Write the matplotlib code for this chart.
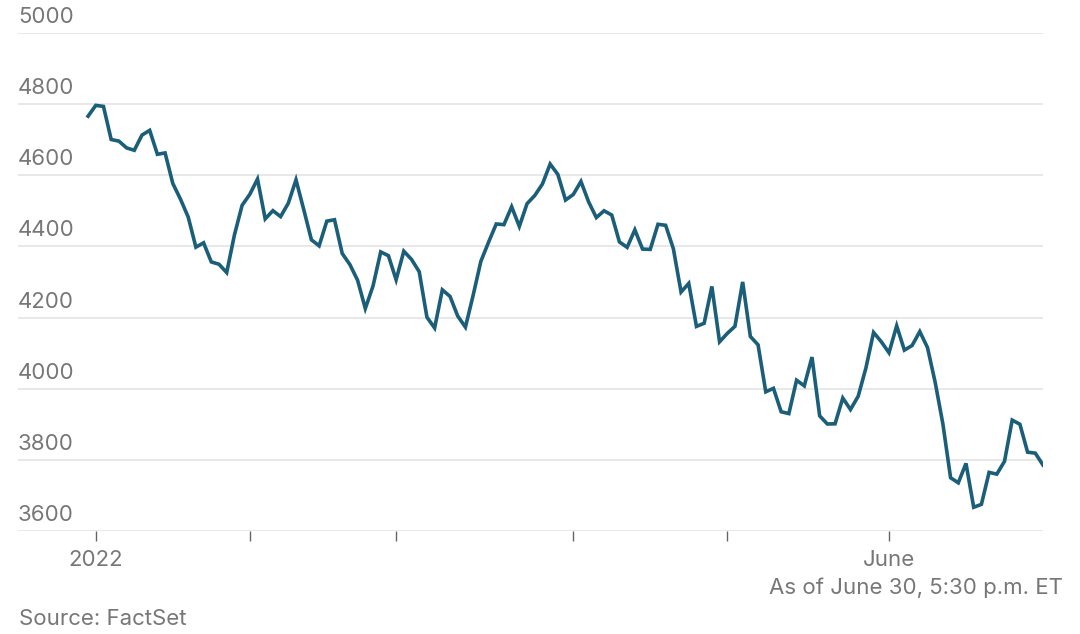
import matplotlib
matplotlib.use("Agg")
import matplotlib.pyplot as plt
import matplotlib.transforms as mtransforms
import numpy as np

# ── データ（S&P 500 終値, 2021/12/31 〜 2022/6/30, 取引日ベース） ──
closes = [
    4766.18,
    # Jan
    4796.56, 4793.54, 4700.58, 4696.05, 4677.03, 4670.29, 4713.07, 4726.35,
    4659.03, 4662.85, 4577.11, 4532.76, 4482.73, 4397.94, 4410.13, 4356.45,
    4349.93, 4326.51, 4431.85, 4515.55,
    # Feb
    4546.54, 4589.38, 4477.44, 4500.53, 4483.87, 4521.54, 4587.18, 4504.08,
    4418.64, 4401.67, 4471.07, 4475.01, 4380.26, 4348.87, 4304.76, 4225.50,
    4288.70, 4384.65, 4373.94,
    # Mar
    4306.26, 4386.54, 4363.49, 4328.87, 4201.09, 4170.70, 4277.88, 4259.52,
    4204.31, 4173.11, 4262.45, 4357.86, 4411.67, 4463.12, 4461.18, 4511.61,
    4456.24, 4520.16, 4543.06, 4575.52, 4631.60, 4602.45, 4530.41,
    # Apr
    4545.86, 4582.64, 4525.12, 4481.15, 4500.21, 4488.28, 4412.53, 4397.45,
    4446.59, 4392.59, 4391.69, 4462.21, 4459.45, 4393.66, 4271.78, 4296.12,
    4175.20, 4183.96, 4287.50, 4131.93,
    # May
    4155.38, 4175.48, 4300.17, 4146.87, 4123.34, 3991.24, 4001.05, 3935.18,
    3930.08, 4023.89, 4008.01, 4088.85, 3923.68, 3900.79, 3901.36, 3973.75,
    3941.48, 3978.73, 4057.84, 4158.24, 4132.15,
    # Jun
    4101.23, 4176.82, 4108.54, 4121.43, 4160.68, 4115.77, 4017.82, 3900.86,
    3749.63, 3735.48, 3789.99, 3666.77, 3674.84, 3764.79, 3759.89, 3795.73,
    3911.74, 3900.11, 3821.55, 3818.83, 3785.38,
]

# 月初の取引日インデックス（Jan 3, Feb 1, Mar 1, Apr 1, May 2, Jun 1）
month_ticks = [1, 21, 40, 63, 83, 104]
month_labels = ["2022", "", "", "", "", "June"]
y_ticks = [3600, 3800, 4000, 4200, 4400, 4600, 4800, 5000]

plt.rcParams["font.family"] = ["Inter", "DejaVu Sans"]

LINE_COLOR = "#1a5e7a"
TEXT_COLOR = "#777777"
FS = 16

fig = plt.figure(figsize=(10.8, 6.34), dpi=100)
fig.patch.set_facecolor("white")
ax = fig.add_axes([18 / 1080, 103 / 634, 1025 / 1080, 498 / 634])

x = np.arange(len(closes))
ax.plot(x, closes, color=LINE_COLOR, linewidth=2.6, solid_joinstyle="miter",
        zorder=3)

ax.set_xlim(-9.1, len(closes) - 1)
ax.set_ylim(y_ticks[0], y_ticks[-1])

# 横グリッド
for yv in y_ticks:
    ax.axhline(yv, color="#e2e2e2", linewidth=1.1, zorder=1)

# y ラベル（グリッド線の上、左寄せ）
trans = mtransforms.blended_transform_factory(ax.transAxes, ax.transData)
offset = mtransforms.offset_copy(trans, fig=fig, x=0, y=6, units="dots")
for yv in y_ticks:
    ax.text(0.0, yv, f"{yv}", transform=offset, ha="left", va="bottom",
            fontsize=FS, color=TEXT_COLOR)

ax.set_yticks([])
ax.set_xticks(month_ticks)
ax.set_xticklabels(month_labels)
ax.tick_params(axis="x", length=7, width=1, color="#666666", pad=7,
               labelsize=FS, labelcolor=TEXT_COLOR)
for s in ax.spines.values():
    s.set_visible(False)

fig.text(1063 / 1080, 1 - 588 / 634, "As of June 30, 5:30 p.m. ET",
         ha="right", va="center", fontsize=FS, color=TEXT_COLOR)
fig.text(19 / 1080, 1 - 619 / 634, "Source: FactSet",
         ha="left", va="center", fontsize=FS, color=TEXT_COLOR)

fig.savefig("out.png", dpi=100)
